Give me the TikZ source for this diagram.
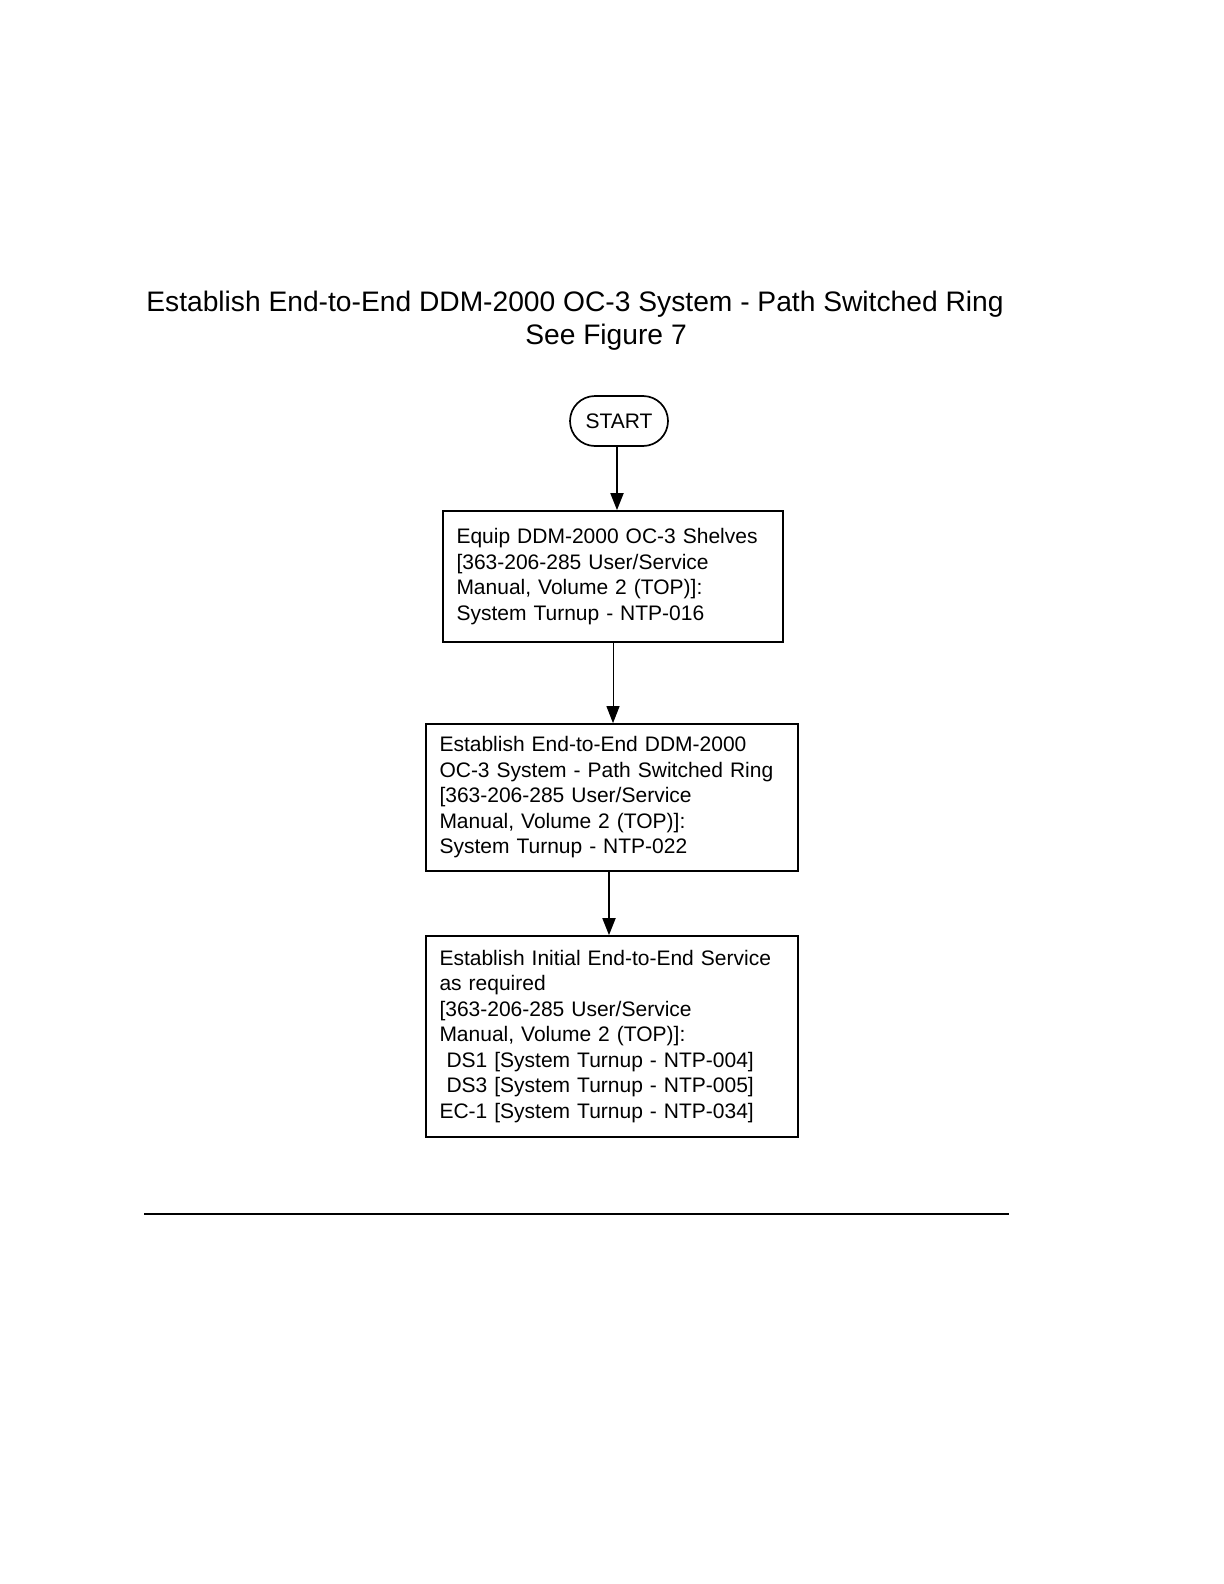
\documentclass[tikz,border=0pt]{standalone}
\usepackage{fontspec}
\setmainfont{Liberation Sans}
\usetikzlibrary{arrows.meta}

\begin{document}
\begin{tikzpicture}[x=0.5pt,y=-0.5pt,line join=miter]
	\tikzstyle{step box}=[draw=black,line width=0.85pt,fill=white,inner sep=0pt,font=\fontsize{10.5}{12.75}\selectfont]
	\tikzstyle{start box}=[draw=black,line width=0.85pt,rounded corners=12.5pt,minimum width=49pt,minimum height=25pt,inner sep=0pt,font=\fontsize{10.5}{12.75}\selectfont]
	\tikzstyle{flow}=[draw=black,line width=0.9pt,-{Triangle[length=8.5pt,width=6.5pt]}]
	\tikzstyle{heading}=[inner sep=0pt,anchor=base,font=\fontsize{14.1}{16.75}\selectfont]

	% page frame
	\useasboundingbox (0,0) rectangle (1224,1584);

	% Title
	\node[heading] (title-1) at (575,311) {Establish End-to-End DDM-2000 OC-3 System - Path Switched Ring};
	\node[heading] (title-2) at (606,344.5) {See Figure 7};

	% Draw the start node
	\node[start box] (start) at (619,421) {START};

	% Draw the steps
	\node[step box,minimum width=170pt,minimum height=65.5pt,text width=156.5pt,align=left] (step-1) at (613,576.5)
		{Equip DDM-2000 OC-3 Shelves\\
		{}[363-206-285 User/Service\\
		Manual, Volume 2 (TOP)]:\\
		System Turnup - NTP-016};
	\node[step box,minimum width=186pt,minimum height=73.5pt,text width=172.5pt,align=left] (step-2) at (612,797.5)
		{Establish End-to-End DDM-2000\\
		OC-3 System - Path Switched Ring\\
		{}[363-206-285 User/Service\\
		Manual, Volume 2 (TOP)]:\\
		System Turnup - NTP-022};
	\node[step box,minimum width=186pt,minimum height=100.5pt,text width=172.5pt,align=left] (step-3) at (612,1036.5)
		{Establish Initial End-to-End Service\\
		as required\\
		{}[363-206-285 User/Service\\
		Manual, Volume 2 (TOP)]:\\
		\ DS1 [System Turnup - NTP-004]\\
		\ DS3 [System Turnup - NTP-005]\\
		EC-1 [System Turnup - NTP-034]};

	% Connect the steps
	\path[flow] ([xshift=-1pt]start.south) -- ([xshift=-1pt]start.south |- step-1.north);
	\path[flow,line width=0.5pt] (step-1.south) -- (step-1.south |- step-2.north);
	\path[flow] ([xshift=-1.5pt]step-2.south) -- ([xshift=-1.5pt]step-2.south |- step-3.north);

	% Rule under the figure
	\coordinate (rule-l) at (144,1214);
	\coordinate (rule-r) at (1009,1214);
	\draw[line width=0.6pt] (rule-l) -- (rule-r);
\end{tikzpicture}
\end{document}
